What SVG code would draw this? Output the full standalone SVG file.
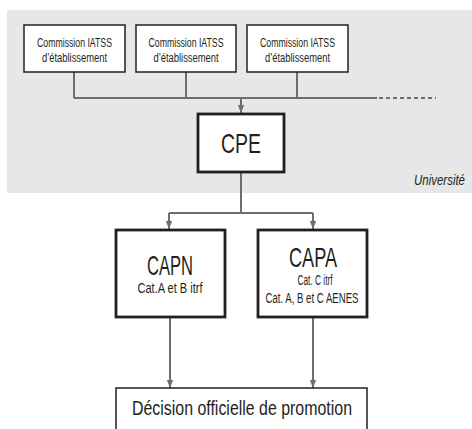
<svg xmlns="http://www.w3.org/2000/svg" width="472" height="429" viewBox="0 0 472 429">
<style>
.bg{fill:#e6e7e8}
.box{fill:#fff;stroke:#231f20;stroke-width:1.5}
.tbox{fill:#fff;stroke:#231f20;stroke-width:2.8}
.ln{fill:none;stroke:#6d6e71;stroke-width:2}
.t{font-family:"Liberation Sans",Arial,sans-serif;fill:#231f20;text-anchor:middle}
.s{font-size:12px}
.m{font-size:14px}
.b{font-size:28px}
.f{font-size:20px}
.u{font-family:"Liberation Sans",Arial,sans-serif;font-style:italic;font-size:14px;fill:#231f20}
</style>
<defs>
<marker id="ah" markerWidth="8" markerHeight="8" viewBox="0 0 8 8" refX="8" refY="4" orient="auto" markerUnits="userSpaceOnUse">
<path d="M0,0.8 L8,4 L0,7.2 Z" fill="#6d6e71"/>
</marker>
</defs>
<rect class="bg" x="7" y="10" width="465" height="183"/>
<text class="u" x="414" y="185" textLength="51" lengthAdjust="spacingAndGlyphs">Université</text>
<g id="connectors">
<path class="ln" d="M74,72 V98 M186,72 V98 M297,72 V98 M74,98 H377"/>
<path class="ln" d="M379,98 H436" stroke-dasharray="4,3"/>
<path class="ln" d="M241,98 V113" marker-end="url(#ah)"/>
<path class="ln" d="M241,172 V213 M169,213 H313"/>
<path class="ln" d="M169,213 V229" marker-end="url(#ah)"/>
<path class="ln" d="M313,213 V229" marker-end="url(#ah)"/>
<path class="ln" d="M170,317 V388" marker-end="url(#ah)"/>
<path class="ln" d="M313,317 V388" marker-end="url(#ah)"/>
</g>
<g id="commission1">
<rect class="box" x="24" y="25" width="101" height="47"/>
<text class="t s" x="74.5" y="47" textLength="75" lengthAdjust="spacingAndGlyphs">Commission IATSS</text>
<text class="t s" x="74.5" y="62" textLength="65" lengthAdjust="spacingAndGlyphs">d’établissement</text>
</g>
<g id="commission2">
<rect class="box" x="136" y="25" width="100" height="47"/>
<text class="t s" x="186" y="47" textLength="75" lengthAdjust="spacingAndGlyphs">Commission IATSS</text>
<text class="t s" x="186" y="62" textLength="65" lengthAdjust="spacingAndGlyphs">d’établissement</text>
</g>
<g id="commission3">
<rect class="box" x="247" y="25" width="101" height="47"/>
<text class="t s" x="297.5" y="47" textLength="75" lengthAdjust="spacingAndGlyphs">Commission IATSS</text>
<text class="t s" x="297.5" y="62" textLength="65" lengthAdjust="spacingAndGlyphs">d’établissement</text>
</g>
<g id="cpe">
<rect class="tbox" x="198" y="114" width="86" height="58"/>
<text class="t b" x="241" y="153" textLength="40" lengthAdjust="spacingAndGlyphs">CPE</text>
</g>
<g id="capn">
<rect class="tbox" x="116" y="230" width="109" height="87"/>
<text class="t b" x="170" y="275" textLength="46" lengthAdjust="spacingAndGlyphs">CAPN</text>
<text class="t m" x="170" y="293" textLength="65" lengthAdjust="spacingAndGlyphs">Cat.A et B itrf</text>
</g>
<g id="capa">
<rect class="tbox" x="258" y="230" width="109" height="87"/>
<text class="t b" x="313" y="267" textLength="48" lengthAdjust="spacingAndGlyphs">CAPA</text>
<text class="t m" x="315" y="285" textLength="35" lengthAdjust="spacingAndGlyphs">Cat. C itrf</text>
<text class="t m" x="312" y="303" textLength="93" lengthAdjust="spacingAndGlyphs">Cat. A, B et C AENES</text>
</g>
<g id="decision">
<rect class="box" x="116" y="388" width="251" height="50"/>
<text class="t f" x="242" y="415" textLength="220" lengthAdjust="spacingAndGlyphs">Décision officielle de promotion</text>
</g>
</svg>
